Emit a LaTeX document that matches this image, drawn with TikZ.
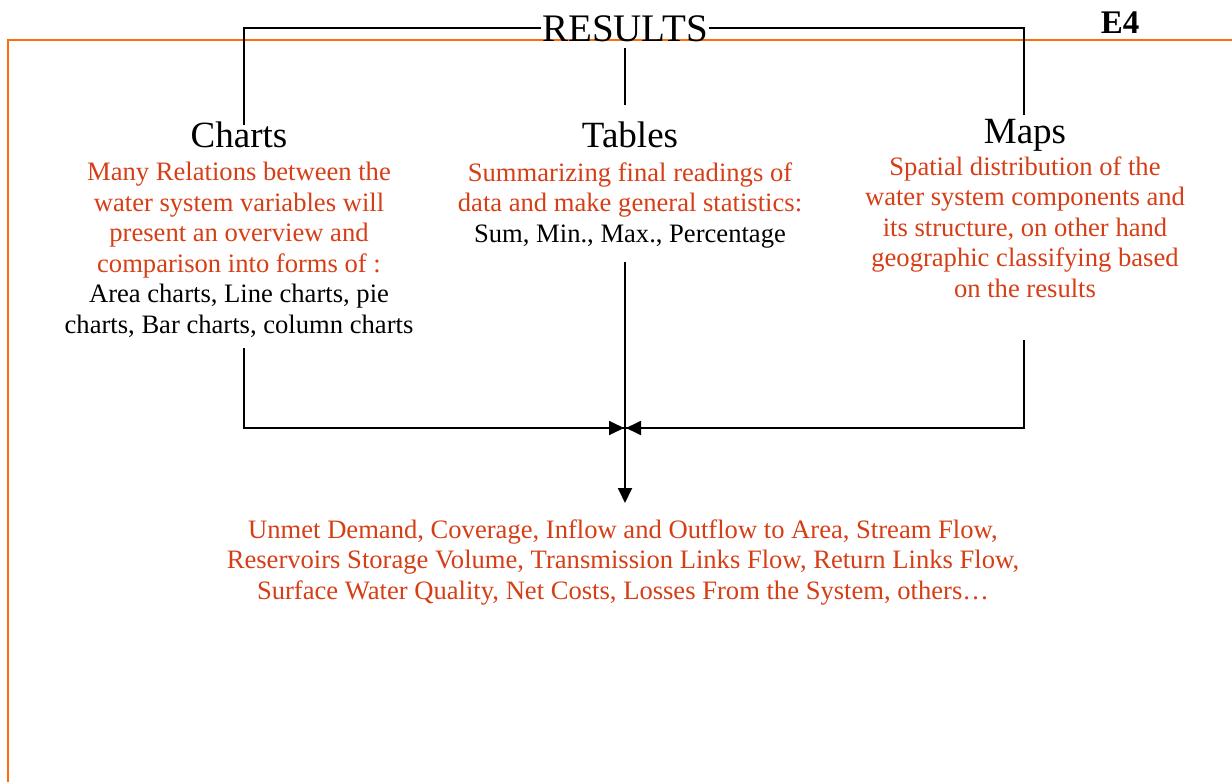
\documentclass[tikz,border=0pt]{standalone}
\usepackage{fontspec}
\setmainfont{Liberation Serif}
\usetikzlibrary{arrows.meta}
\definecolor{resred}{RGB}{214,62,22}
\definecolor{frameorange}{RGB}{255,108,10}
\begin{document}
\begin{tikzpicture}[x=1pt,y=-1pt,
  conn/.style={line width=1.8pt,black},
  arr/.style={conn,-{Triangle[length=15pt,width=14pt]}},
  head/.style={font=\fontsize{37}{42}\selectfont,inner sep=0pt,anchor=base},
  body/.style={font=\fontsize{26.6}{30.5}\selectfont,inner sep=0pt,anchor=base,align=center},
  frame/.style={line width=2.2pt,frameorange}]
\useasboundingbox (0,0) rectangle (1232,782);
% orange frame
\coordinate (fTR) at (1232,40);
\coordinate (fTL) at (8,40);
\coordinate (fBL) at (8,782);
\draw[frame] (fTR) -- (fTL) -- (fBL);
% title and tag
\node[font=\fontsize{39}{44}\selectfont,inner sep=1pt,anchor=base] (res) at (625,41) {RESULTS};
\node[font=\fontsize{33}{38}\selectfont\bfseries,inner sep=0pt,anchor=base] (e4) at (1120,33) {E4};
% headings
\node[head] (charts) at (239,147) {Charts};
\node[head] (tables) at (630,147) {Tables};
\node[head] (maps) at (1025,143) {Maps};
% bodies (base anchor = baseline of the last line)
\node[body] (chartsTxt) at (239,333) {\textcolor{resred}{Many Relations between the}\\
  \textcolor{resred}{water system variables will}\\
  \textcolor{resred}{present an overview and}\\
  \textcolor{resred}{comparison into forms of :}\\
  Area charts, Line charts, pie\\
  charts, Bar charts, column charts};
\node[body] (tablesTxt) at (630,242) {\textcolor{resred}{Summarizing final readings of}\\
  \textcolor{resred}{data and make general statistics:}\\
  Sum, Min., Max., Percentage};
\node[body,text=resred] (mapsTxt) at (1025,297) {Spatial distribution of the\\
  water system components and\\
  its structure, on other hand\\
  geographic classifying based\\
  on the results};
\node[body,text=resred] (out) at (623,599) {Unmet Demand, Coverage, Inflow and Outflow to Area, Stream Flow,\\
  Reservoirs Storage Volume, Transmission Links Flow, Return Links Flow,\\
  Surface Water Quality, Net Costs, Losses From the System, others\ldots};
% top bracket
\coordinate (bL) at (244,125);
\coordinate (bR) at (1024,115);
\coordinate (bM) at (625,105);
\draw[conn] (res.west) -| (bL);
\draw[conn] (res.east) -| (bR);
\draw[conn,shorten <=5pt] (res.south) -- (bM);
% bottom connectors
\coordinate (lA) at (244,348);
\coordinate (rA) at (1024,340);
\coordinate (mA) at (625,262);
\coordinate (J) at (625,428);
\coordinate (mE) at (625,503);
\draw[conn] (lA) |- ([xshift=-1pt]J);
\draw[arr] ([xshift=-20pt]J) -- ([xshift=-1pt]J);
\draw[conn] (rA) |- ([xshift=1pt]J);
\draw[arr] ([xshift=20pt]J) -- ([xshift=1pt]J);
\draw[arr] (mA) -- (mE);
\end{tikzpicture}
\end{document}
